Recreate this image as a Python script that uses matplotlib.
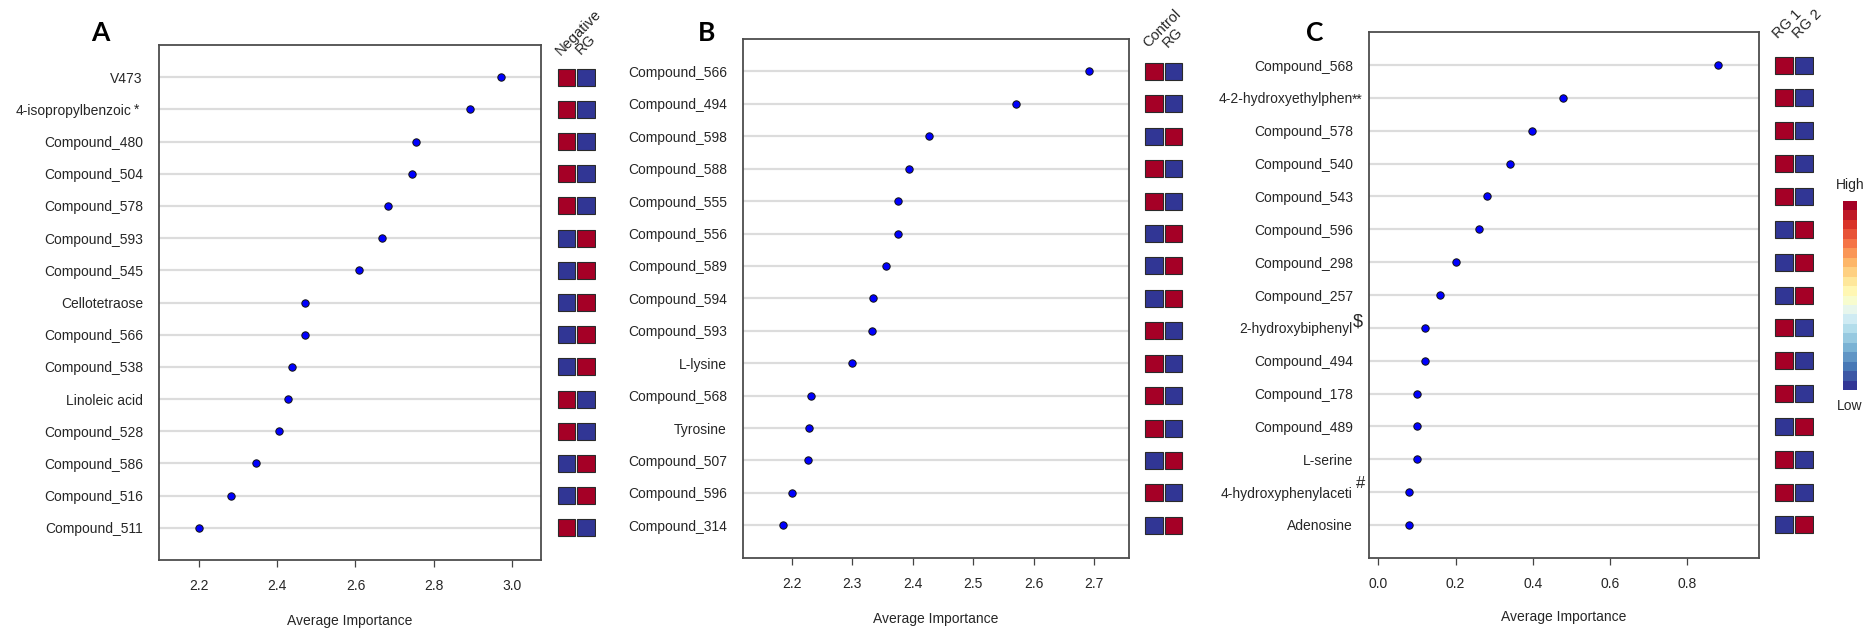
import matplotlib as mpl
import matplotlib.pyplot as plt
import numpy as np
from matplotlib.patches import Rectangle

W, H = 1867, 628
plt.rcParams['font.family'] = ['Liberation Sans', 'DejaVu Sans']
plt.rcParams['font.size'] = 10
TXT = '#262626'

# ---- data ----
a_names = ["V473", "4-isopropylbenzoic", "Compound_480", "Compound_504", "Compound_578",
           "Compound_593", "Compound_545", "Cellotetraose", "Compound_566", "Compound_538",
           "Linoleic acid", "Compound_528", "Compound_586", "Compound_516", "Compound_511"]
a_values = [2.972, 2.893, 2.754, 2.745, 2.684, 2.667, 2.609, 2.472, 2.471, 2.437,
            2.427, 2.406, 2.346, 2.282, 2.201]
a_groups = ["Negative", "RG"]
a_first_high = [1, 1, 1, 1, 1, 0, 0, 0, 0, 0, 1, 1, 0, 0, 1]
a_ticks = [2.2, 2.4, 2.6, 2.8, 3.0]
a_marks = {"4-isopropylbenzoic": "*"}

b_names = ["Compound_566", "Compound_494", "Compound_598", "Compound_588", "Compound_555",
           "Compound_556", "Compound_589", "Compound_594", "Compound_593", "L-lysine",
           "Compound_568", "Tyrosine", "Compound_507", "Compound_596", "Compound_314"]
b_values = [2.692, 2.570, 2.427, 2.394, 2.375, 2.375, 2.356, 2.334, 2.332, 2.299,
            2.231, 2.228, 2.227, 2.200, 2.185]
b_groups = ["Control", "RG"]
b_first_high = [1, 1, 0, 1, 1, 0, 0, 0, 1, 1, 1, 1, 0, 1, 0]
b_ticks = [2.2, 2.3, 2.4, 2.5, 2.6, 2.7]
b_marks = {}

c_names = ["Compound_568", "4-2-hydroxyethylphen", "Compound_578", "Compound_540",
           "Compound_543", "Compound_596", "Compound_298", "Compound_257",
           "2-hydroxybiphenyl", "Compound_494", "Compound_178", "Compound_489",
           "L-serine", "4-hydroxyphenylaceti", "Adenosine"]
c_values = [0.880, 0.479, 0.399, 0.340, 0.280, 0.260, 0.200, 0.159, 0.120, 0.120,
            0.100, 0.100, 0.100, 0.080, 0.080]
c_groups = ["RG 1", "RG 2"]
c_first_high = [1, 1, 1, 1, 1, 0, 0, 0, 1, 1, 1, 0, 1, 1, 0]
c_ticks = [0.0, 0.2, 0.4, 0.6, 0.8]
c_marks = {"4-2-hydroxyethylphen": "**", "2-hydroxybiphenyl": "$",
           "4-hydroxyphenylaceti": "#"}

# ---- layout (pixels) ----
panels = [
    dict(letter="A", names=a_names, values=a_values, groups=a_groups, high=a_first_high,
         ticks=a_ticks, marks=a_marks, box=(159, 45, 541, 560), xlim=(2.099, 3.073),
         sq=(556.5, 596), letter_xy=(100, 33), xlab_y=620.5, head_dy=-7.5),
    dict(letter="B", names=b_names, values=b_values, groups=b_groups, high=b_first_high,
         ticks=b_ticks, marks=b_marks, box=(743, 39, 1128.5, 557.7), xlim=(2.119, 2.757),
         sq=(1144, 1183.5), letter_xy=(707, 33), xlab_y=619, head_dy=-6.8),
    dict(letter="C", names=c_names, values=c_values, groups=c_groups, high=c_first_high,
         ticks=c_ticks, marks=c_marks, box=(1369, 32.3, 1759, 557.7), xlim=(-0.024, 0.985),
         sq=(1774, 1814), letter_xy=(1315, 33), xlab_y=617, head_dy=-4.5),
]
LABEL_PAD = 11.6  # pt
# symbol placement: (dx pt from box left, dy pt from row centre, ha, size, shifted label pad pt)
mark_style = {
    "*": (-14.2, -3.0, "right", 10, 19.9),
    "**": (-12.2, -4.0, "left", 10, None),
    "$": (-11.8, 0.8, "left", 13, None),
    "#": (-9.6, 2.6, "left", 12, None),
}

cmap = plt.get_cmap('RdYlBu_r')
HIGH, LOW = cmap(1.0), cmap(0.0)

fig = plt.figure(figsize=(W / 100, H / 100), dpi=100)


def px_axes(l, t, r, b):
    return fig.add_axes([l / W, 1 - b / H, (r - l) / W, (b - t) / H])


for p in panels:
    n = len(p["names"])
    rows = np.arange(1, n + 1)
    l, t, r, b = p["box"]
    ax = px_axes(l, t, r, b)
    for y in rows:
        ax.axhline(y, color='#dcdcdc', lw=1.6, zorder=1)
    ax.plot(p["values"], rows, 'o', ms=5.3, mfc='#0000ff', mec='#101010', mew=0.7, zorder=3)
    ax.set_xlim(*p["xlim"])
    ax.set_ylim(n + 1, 0)
    ax.set_xticks(p["ticks"])
    ax.set_xticklabels([f"{v:.1f}" for v in p["ticks"]])
    ax.set_yticks(rows)
    shifted = [nm for nm, mk in p["marks"].items() if mark_style[mk][4]]
    ax.set_yticklabels(["" if nm in shifted else nm for nm in p["names"]])
    ax.tick_params(axis='y', length=0, pad=LABEL_PAD, labelcolor=TXT)
    ax.tick_params(axis='x', length=5, width=0.9, color='#444444', pad=8.6, labelcolor=TXT)
    for s in ax.spines.values():
        s.set_color('#4d4d4d')
        s.set_linewidth(1.3)
    ax.set_xlabel("Average Importance", color=TXT)
    ax.xaxis.label.set_va('center')
    ax.xaxis.set_label_coords(0.5, -(p["xlab_y"] - b) / (b - t))

    for name, mark in p["marks"].items():
        i = p["names"].index(name)
        dx, dy, ha, size, lpad = mark_style[mark]
        if lpad:
            ax.annotate(name, xy=(0, rows[i]), xycoords=('axes fraction', 'data'),
                        xytext=(-lpad, 0), textcoords='offset points', ha='right',
                        va='center_baseline', color=TXT, annotation_clip=False)
        ax.annotate(mark, xy=(0, rows[i]), xycoords=('axes fraction', 'data'),
                    xytext=(dx, dy), textcoords='offset points', ha=ha, va='baseline',
                    fontsize=size, color=TXT, annotation_clip=False)

    # group status squares
    sl, sr = p["sq"]
    sax = px_axes(sl, t, sr, b)
    sax.set_xlim(0, 2)
    sax.set_ylim(n + 1, 0)
    sax.axis('off')
    hgt = 17 / ((b - t) / (n + 1))
    for y, hi in zip(rows, p["high"]):
        cols = [HIGH, LOW] if hi else [LOW, HIGH]
        for j, c in enumerate(cols):
            sax.add_patch(Rectangle((j + 0.06, y - hgt / 2), 0.88, hgt, facecolor=c,
                                    edgecolor='#2a2a2a', lw=0.8))
    for j, g in enumerate(p["groups"]):
        sax.annotate(g, xy=(j + 0.5, 1.0), xycoords=('data', 'axes fraction'),
                     xytext=(-4.0, p["head_dy"]), textcoords='offset points',
                     rotation=45, rotation_mode='anchor', ha='left', va='baseline',
                     fontsize=10.5, color=TXT, annotation_clip=False)

    lx, ly = p["letter_xy"]
    fig.text(lx / W, 1 - ly / H, p["letter"], ha='center', va='center', fontsize=19,
             fontweight='bold', family=['Lato', 'DejaVu Sans'], color='black')

# colour key
cax = px_axes(1843, 201, 1857, 390)
cb = fig.colorbar(mpl.cm.ScalarMappable(norm=mpl.colors.Normalize(0, 1),
                                        cmap=plt.get_cmap('RdYlBu_r', 20)),
                  cax=cax, ticks=[])
cb.outline.set_visible(False)
cax.text(0.5, 1 + 16 / 189, "High", transform=cax.transAxes, ha='center', va='center',
         color=TXT)
cax.text(0.5, -16 / 189, "Low", transform=cax.transAxes, ha='center', va='center', color=TXT)

fig.savefig("out.png", dpi=100)
